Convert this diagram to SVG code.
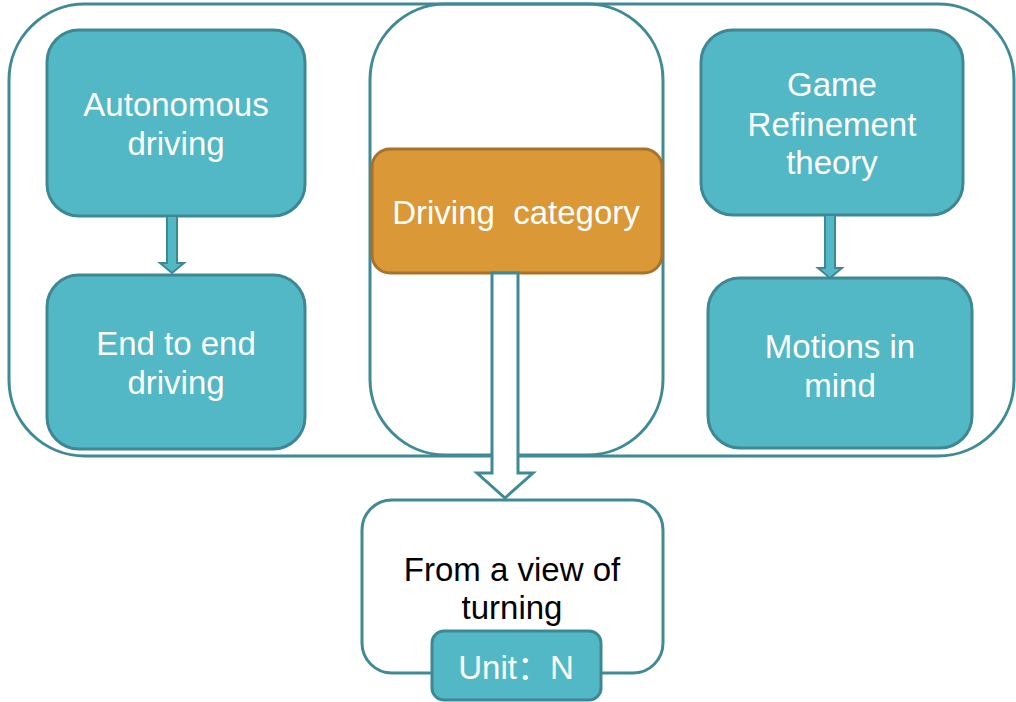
<svg xmlns="http://www.w3.org/2000/svg" width="1016" height="702" viewBox="0 0 1016 702">
<style>
.frame{fill:none;stroke:#3F8A95;stroke-width:3}
.node{fill:#52B8C6;stroke:#3E8893;stroke-width:3}
.orange{fill:#DA9837;stroke:#A8722D;stroke-width:3}
.white{fill:#FFFFFF;stroke:#3F8A95;stroke-width:3}
.t{font-family:"Liberation Sans",Arial,sans-serif;font-size:33px;fill:#FFFFFF;text-anchor:middle}
.k{fill:#000000}
.arr{fill:#52B8C6;stroke:#3E8893;stroke-width:2}
.hollow{fill:#FFFFFF;stroke:#3F8A95;stroke-width:3}
</style>
<rect class="frame" x="9" y="4" width="1005" height="452" rx="76" ry="76"/>
<rect class="frame" x="370" y="4" width="293" height="451" rx="76" ry="76"/>
<g id="autonomous">
<rect class="node" x="47" y="30" width="258" height="186" rx="32"/>
<text class="t" x="176" y="116">Autonomous</text>
<text class="t" x="176" y="155">driving</text>
</g>
<g id="endtoend">
<rect class="node" x="47" y="275" width="258" height="174" rx="32"/>
<text class="t" x="176" y="355">End to end</text>
<text class="t" x="176" y="394">driving</text>
</g>
<g id="game">
<rect class="node" x="701" y="30" width="262" height="185" rx="32"/>
<text class="t" x="832" y="96">Game</text>
<text class="t" x="832" y="136">Refinement</text>
<text class="t" x="832" y="174">theory</text>
</g>
<g id="motions">
<rect class="node" x="708" y="278" width="264" height="170" rx="32"/>
<text class="t" x="840" y="358">Motions in</text>
<text class="t" x="840" y="397">mind</text>
</g>
<g id="category">
<rect class="orange" x="372" y="149" width="290" height="124" rx="18"/>
<text class="t" x="516" y="224" xml:space="preserve">Driving  category</text>
</g>
<g id="connectors">
<path class="arr" d="M167,216 L177,216 L177,263 L184,263 L172,273 L160,263 L167,263 Z"/>
<path class="arr" d="M825,215 L835,215 L835,268 L842,268 L830,278 L818,268 L825,268 Z"/>
<path class="hollow" d="M492,273 L518,273 L518,473 L533,473 L505,498 L477,473 L492,473 Z"/>
</g>
<g id="turning">
<rect class="white" x="362" y="500" width="301" height="173" rx="30"/>
<text class="t k" x="512" y="581">From a view of</text>
<text class="t k" x="512" y="619">turning</text>
</g>
<g id="unit">
<rect class="node" x="432" y="631" width="169" height="69" rx="12"/>
<text class="t" x="516" y="679" style="font-family:'Liberation Sans','Noto Sans CJK SC',sans-serif">Unit：N</text>
</g>
</svg>
